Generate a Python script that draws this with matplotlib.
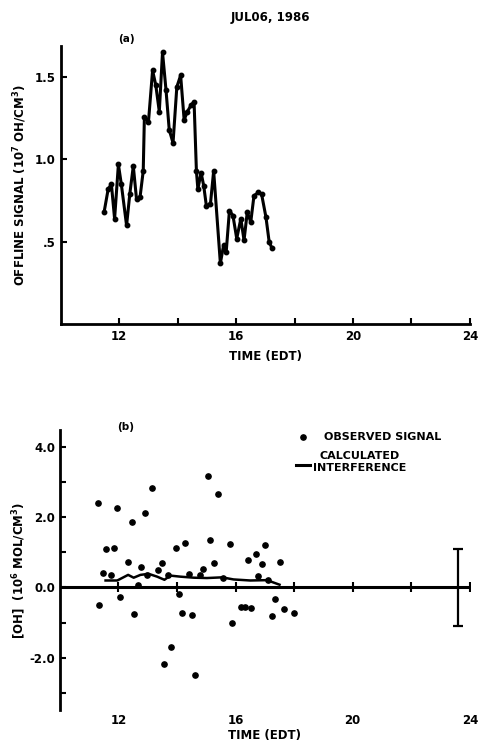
import matplotlib
matplotlib.use("Agg")
import matplotlib.pyplot as plt

plt.rcParams['font.family'] = ['DejaVu Sans']
plt.rcParams['font.weight'] = 'bold'

# (a) offline signal, 10^7 OH/cm^3
offline_time = [11.48, 11.62, 11.73, 11.84, 11.97, 12.07, 12.25, 12.36, 12.48, 12.59,
                12.71, 12.82, 12.86, 13.00, 13.14, 13.25, 13.37, 13.48, 13.60, 13.71,
                13.84, 13.97, 14.10, 14.22, 14.33, 14.46, 14.56, 14.64, 14.69, 14.80,
                14.89, 14.98, 15.12, 15.23, 15.46, 15.57, 15.66, 15.77, 15.89, 16.02,
                16.16, 16.27, 16.38, 16.50, 16.61, 16.76, 16.87, 17.02, 17.13, 17.23]
offline_signal = [0.68, 0.82, 0.85, 0.64, 0.97, 0.85, 0.60, 0.79, 0.96, 0.76,
                  0.77, 0.93, 1.26, 1.23, 1.54, 1.45, 1.29, 1.65, 1.42, 1.18,
                  1.10, 1.44, 1.51, 1.24, 1.29, 1.33, 1.35, 0.93, 0.82, 0.92,
                  0.84, 0.72, 0.73, 0.93, 0.37, 0.48, 0.44, 0.69, 0.66, 0.52,
                  0.64, 0.51, 0.68, 0.62, 0.78, 0.80, 0.79, 0.65, 0.50, 0.46]

# (b) observed signal, 10^6 mol/cm^3
obs_time = [11.29, 11.35, 11.48, 11.59, 11.73, 11.84, 11.96, 12.04, 12.32, 12.47,
            12.52, 12.67, 12.77, 12.92, 12.98, 13.16, 13.34, 13.47, 13.55, 13.69,
            13.81, 13.98, 14.06, 14.17, 14.28, 14.40, 14.51, 14.60, 14.80, 14.89,
            15.05, 15.14, 15.25, 15.40, 15.57, 15.82, 15.88, 16.18, 16.31, 16.44,
            16.52, 16.69, 16.76, 16.90, 17.01, 17.12, 17.24, 17.35, 17.52, 17.66,
            17.98]
obs_signal = [2.41, -0.49, 0.41, 1.11, 0.36, 1.13, 2.27, -0.28, 0.72, 1.87,
              -0.77, 0.06, 0.58, 2.14, 0.37, 2.84, 0.51, 0.71, -2.18, 0.36,
              -1.69, 1.13, -0.18, -0.73, 1.27, 0.39, -0.78, -2.49, 0.36, 0.53,
              3.19, 1.37, 0.71, 2.68, 0.28, 1.23, -1.02, -0.55, -0.55, 0.78,
              -0.58, 0.95, 0.33, 0.68, 1.20, 0.22, -0.82, -0.33, 0.74, -0.62,
              -0.72]

# calculated interference
calc_time = [11.56, 11.96, 12.33, 12.52, 12.75, 13.03, 13.32, 13.57, 13.77, 14.11,
             14.57, 15.02, 15.54, 15.93, 16.50, 17.07, 17.50]
calc_signal = [0.20, 0.20, 0.36, 0.28, 0.36, 0.39, 0.31, 0.22, 0.34, 0.31,
               0.28, 0.27, 0.29, 0.23, 0.20, 0.21, 0.08]

# error bar at right edge
err_time = [23.6]
err_center = [0.0]
err_half = [1.1]

xticks = [12, 16, 20, 24]
xticks_minor = [14, 18, 22]
xtick_labels = ['12', '16', '20', '24']
axis_ticks = [12, 14, 16, 18, 20, 22, 24]

fig = plt.figure(figsize=(4.79, 7.49), dpi=100)
fs = 8.5

# ---- panel (a) ----
ax1 = fig.add_axes([0.127, 0.567, 0.854, 0.372])
ax1.plot(offline_time, offline_signal, color='black', lw=2.2, marker='o', ms=3.2)
ax1.set_xlim(10, 24)
ax1.set_ylim(0, 1.69)
for s in ['top', 'right']:
    ax1.spines[s].set_visible(False)
for s in ['left', 'bottom']:
    ax1.spines[s].set_linewidth(2.0)
ax1.set_xticks(xticks)
ax1.set_xticklabels(xtick_labels)
ax1.set_xticks(xticks_minor, minor=True)
ax1.set_yticks([0.5, 1.0, 1.5])
ax1.set_yticklabels(['.5', '1.0', '1.5'])
ax1.tick_params(which='both', direction='in', length=4, width=1.5, labelsize=fs, pad=4)
ax1.set_xlabel('TIME (EDT)', fontsize=fs, fontweight='bold', labelpad=5)
ax1.set_ylabel('OFFLINE SIGNAL (10$^7$ OH/CM$^3$)', fontsize=fs, fontweight='bold', labelpad=4)
ax1.text(0.14, 1.015, '(a)', transform=ax1.transAxes, fontsize=fs - 1, fontweight='bold')
fig.text(0.565, 0.972, 'JUL06, 1986', ha='center', fontsize=fs, fontweight='bold')

# ---- panel (b) ----
ax2 = fig.add_axes([0.125, 0.052, 0.856, 0.374])
ax2.set_xlim(10, 24)
ax2.set_ylim(-3.5, 4.5)
ax2.axhline(0, color='black', lw=2.2)
ax2.plot(axis_ticks, [0] * len(axis_ticks), ls='none', marker='|', ms=7, mew=1.5, color='black')
ax2.plot(obs_time, obs_signal, ls='none', marker='o', ms=3.8, color='black')
ax2.plot(calc_time, calc_signal, color='black', lw=1.8)
ax2.errorbar(err_time, err_center, yerr=err_half, fmt='none', ecolor='black',
             elinewidth=1.6, capsize=3.5, capthick=1.6)
for s in ['top', 'right', 'bottom']:
    ax2.spines[s].set_visible(False)
ax2.spines['left'].set_linewidth(2.0)
ax2.set_xticks(xticks)
ax2.set_xticklabels(xtick_labels)
ax2.set_yticks([-2, 0, 2, 4])
ax2.set_yticklabels(['-2.0', '0.0', '2.0', '4.0'])
ax2.set_yticks([-3, -1, 1, 3], minor=True)
ax2.tick_params(axis='x', length=0, labelsize=fs, pad=3)
ax2.tick_params(axis='y', which='both', direction='in', length=4, width=1.5, labelsize=fs)
ax2.set_xlabel('TIME (EDT)', fontsize=fs, fontweight='bold', labelpad=1)
ax2.set_ylabel('[OH]  (10$^6$ MOL/CM$^3$)', fontsize=fs, fontweight='bold', labelpad=1)
ax2.text(0.14, 1.0, '(b)', transform=ax2.transAxes, fontsize=fs - 1, fontweight='bold')

# legend drawn by hand
ax2.plot([0.593], [0.975], 'o', ms=3.8, color='black', transform=ax2.transAxes, clip_on=False)
ax2.text(0.645, 0.975, 'OBSERVED SIGNAL', transform=ax2.transAxes, fontsize=fs - 0.5,
         fontweight='bold', va='center')
ax2.plot([0.575, 0.61], [0.875, 0.875], color='black', lw=2.2, transform=ax2.transAxes)
ax2.text(0.73, 0.885, 'CALCULATED\nINTERFERENCE', transform=ax2.transAxes, fontsize=fs - 0.5,
         fontweight='bold', va='center', ha='center', linespacing=1.2)

fig.savefig('out.png', dpi=100)
